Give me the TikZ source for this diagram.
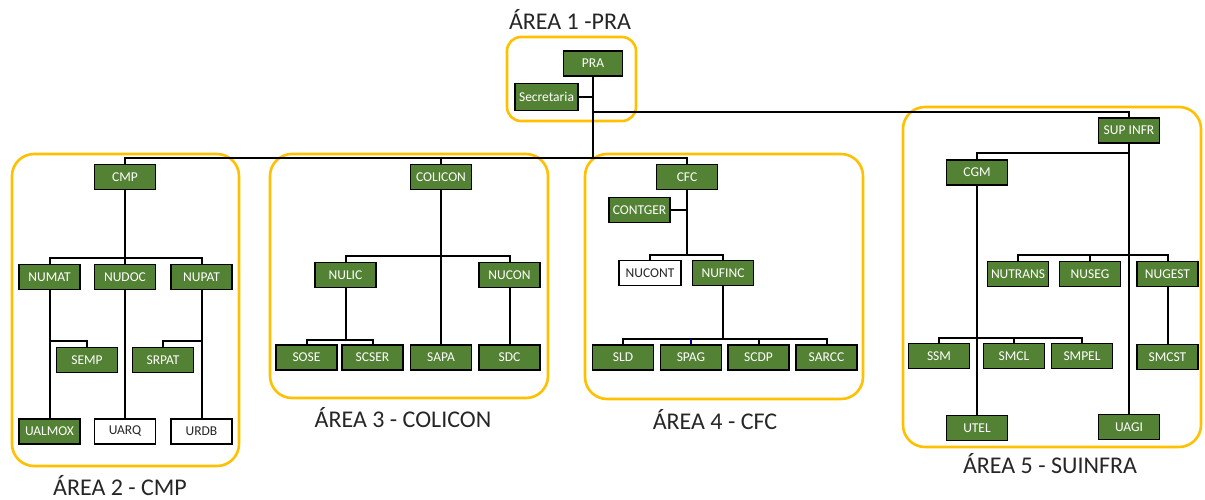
\documentclass[tikz,border=0pt]{standalone}
\usepackage{fontspec}
\setmainfont{Carlito}
\begin{document}
\begin{tikzpicture}[x=1pt,y=-1pt,
  gbox/.style={draw=black, line width=1.5pt, fill=unitgreen, text=white,
    minimum width=61pt, minimum height=25pt, inner sep=0pt,
    font=\fontsize{13.5}{15}\selectfont},
  wbox/.style={gbox, fill=white, text=black!85, line width=1.2pt},
  area/.style={draw=areagold, line width=2.6pt, rounded corners=22pt},
  wire/.style={draw=black, line width=2pt},
  arealabel/.style={text=black!85, font=\fontsize{24}{28}\selectfont,
    inner sep=0pt, anchor=base}]
\definecolor{unitgreen}{HTML}{548235}
\definecolor{areagold}{HTML}{FFC000}
\useasboundingbox (0,0) rectangle (1205,500);

% area frames
\draw[area, rounded corners=14pt] (507,37) rectangle (636,121);
\draw[area] (12,154) rectangle (239,466);
\draw[area] (270,154) rectangle (548,398);
\draw[area] (585,154) rectangle (863,399);
\draw[area] (903,107) rectangle (1201,447);

% area titles
\node[arealabel] (t1) at (570,30) {ÁREA 1 -PRA};
\node[arealabel] (t2) at (120,495) {ÁREA 2 - CMP};
\node[arealabel] (t3) at (403,427) {ÁREA 3 - COLICON};
\node[arealabel] (t4) at (715,429) {ÁREA 4 - CFC};
\node[arealabel] (t5) at (1050,473) {ÁREA 5 - SUINFRA};

% rail heights
\coordinate (toprail) at (0,112);
\coordinate (busy) at (0,158);
\coordinate (b2) at (0,258);
\coordinate (b2s) at (0,341);
\coordinate (b3) at (0,256);
\coordinate (b3s) at (0,340);
\coordinate (b4) at (0,255);
\coordinate (b4s) at (0,339);
\coordinate (b5a) at (0,153);
\coordinate (b5b) at (0,255);
\coordinate (b5c) at (0,338);

% ---- area 1
\node[gbox, minimum width=59pt] (pra) at (593,63.5) {PRA};
\node[gbox, minimum width=63pt, minimum height=27pt] (secretaria) at (546.5,97) {Secretaria};

% ---- area 2
\node[gbox] (cmp) at (125,177) {CMP};
\node[gbox] (numat) at (49.5,277) {NUMAT};
\node[gbox] (nudoc) at (125,277) {NUDOC};
\node[gbox] (nupat) at (201.5,277) {NUPAT};
\node[gbox] (semp) at (87,360) {SEMP};
\node[gbox] (srpat) at (163,360) {SRPAT};
\node[gbox] (ualmox) at (49.5,431.5) {UALMOX};
\node[wbox] (uarq) at (125,431.5) {UARQ};
\node[wbox] (urdb) at (201.5,431.5) {URDB};

% ---- area 3
\node[gbox] (colicon) at (441,177) {COLICON};
\node[gbox] (nulic) at (345.5,275) {NULIC};
\node[gbox] (nucon) at (509.5,275) {NUCON};
\node[gbox] (sose) at (306.5,357.5) {SOSE};
\node[gbox] (scser) at (372.5,357.5) {SCSER};
\node[gbox] (sapa) at (441,357.5) {SAPA};
\node[gbox] (sdc) at (509.5,357.5) {SDC};

% ---- area 4
\node[gbox] (cfc) at (687,177) {CFC};
\node[gbox] (contger) at (639.5,210) {CONTGER};
\node[wbox, minimum width=62pt] (nucont) at (650,273) {NUCONT};
\node[gbox] (nufinc) at (723,273) {NUFINC};
\node[gbox] (sld) at (623,357.5) {SLD};
\node[gbox] (spag) at (691,357.5) {SPAG};
\node[gbox] (scdp) at (758.5,357.5) {SCDP};
\node[gbox] (sarcc) at (826.5,357.5) {SARCC};

% ---- area 5
\node[gbox] (supinfr) at (1129,130.5) {SUP INFR};
\node[gbox] (cgm) at (977,172.5) {CGM};
\node[gbox] (nutrans) at (1018,274) {NUTRANS};
\node[gbox] (nuseg) at (1090,274) {NUSEG};
\node[gbox] (nugest) at (1167.5,274) {NUGEST};
\node[gbox] (ssm) at (939,356) {SSM};
\node[gbox] (smcl) at (1014,356) {SMCL};
\node[gbox] (smpel) at (1082,356) {SMPEL};
\node[gbox] (smcst) at (1167.5,357) {SMCST};
\node[gbox] (utel) at (977,428) {UTEL};
\node[gbox] (uagi) at (1129,427) {UAGI};

% ---- connectors, area 1 and main rails
\draw[wire] (pra.south) -- (pra.south |- busy);
\draw[wire] (secretaria.east) -- (secretaria.east -| pra.south);
\draw[wire] (pra.south |- toprail) -| (supinfr.north);
\draw[wire] (cmp.north) -- (cmp.north |- busy) -- (cfc.north |- busy) -- (cfc.north);
\draw[wire] (colicon.north) -- (colicon.north |- busy);

% ---- connectors, area 2
\draw[wire] (cmp.south) -- (cmp.south |- b2);
\draw[wire] (numat.north) -- (numat.north |- b2) -- (nupat.north |- b2) -- (nupat.north);
\draw[wire] (nudoc.north) -- (nudoc.north |- b2);
\draw[wire] (numat.south) -- (ualmox.north);
\draw[wire] (nudoc.south) -- (uarq.north);
\draw[wire] (nupat.south) -- (urdb.north);
\draw[wire] (numat.south |- b2s) -| (semp.north);
\draw[wire] (nupat.south |- b2s) -| (srpat.north);

% ---- connectors, area 3
\draw[wire] (nulic.north) -- (nulic.north |- b3) -- (nucon.north |- b3) -- (nucon.north);
\draw[wire] (colicon.south) -- (sapa.north);
\draw[wire] (nulic.south) -- (nulic.south |- b3s);
\draw[wire] (sose.north) -- (sose.north |- b3s) -- (scser.north |- b3s) -- (scser.north);
\draw[wire] (nucon.south) -- (sdc.north);

% ---- connectors, area 4
\draw[wire] (contger.east) -- (contger.east -| cfc.south);
\draw[wire] (cfc.south) -- (cfc.south |- b4);
\draw[wire] (nucont.north) -- (nucont.north |- b4) -- (nufinc.north |- b4) -- (nufinc.north);
\draw[wire] (nufinc.south) -- (nufinc.south |- b4s);
\draw[wire] (sld.north) -- (sld.north |- b4s) -- (sarcc.north |- b4s) -- (sarcc.north);
\draw[wire, draw=blue!60!black] (spag.north) -- (spag.north |- b4s);
\draw[wire] (scdp.north) -- (scdp.north |- b4s);

% ---- connectors, area 5
\draw[wire] (supinfr.south) -- (uagi.north);
\draw[wire] (supinfr.south |- b5a) -| (cgm.north);
\draw[wire] (nutrans.north) -- (nutrans.north |- b5b) -- (nugest.north |- b5b) -- (nugest.north);
\draw[wire] (nuseg.north) -- (nuseg.north |- b5b);
\draw[wire] (nugest.south) -- (smcst.north);
\draw[wire] (cgm.south) -- (utel.north);
\draw[wire] (ssm.north) -- (ssm.north |- b5c) -- (smpel.north |- b5c) -- (smpel.north);
\draw[wire] (smcl.north) -- (smcl.north |- b5c);
\end{tikzpicture}
\end{document}
